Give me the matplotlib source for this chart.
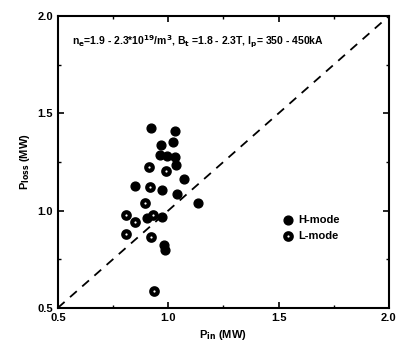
import matplotlib.pyplot as plt
from matplotlib.ticker import MultipleLocator

plt.rcParams['font.family'] = ['Liberation Sans', 'DejaVu Sans']
plt.rcParams['font.weight'] = 'bold'

# H-mode points
h_pin = [0.92, 1.03, 0.967, 1.022, 0.962, 0.995, 1.03, 1.035, 1.071, 0.85,
         0.973, 1.041, 1.136, 0.97, 0.905, 0.98, 0.985]
h_ploss = [1.423, 1.411, 1.337, 1.351, 1.286, 1.281, 1.274, 1.234, 1.163, 1.127,
           1.106, 1.086, 1.038, 0.969, 0.961, 0.824, 0.798]

# L-mode points
l_pin = [0.914, 0.989, 0.917, 0.894, 0.807, 0.932, 0.85, 0.807, 0.92, 0.936]
l_ploss = [1.226, 1.204, 1.12, 1.038, 0.978, 0.978, 0.943, 0.88, 0.863, 0.589]

diag = [0.5, 2.0]

fig = plt.figure(figsize=(3.96, 3.58), dpi=100)
ax = fig.add_axes([0.146, 0.14, 0.836, 0.815])

ax.plot(diag, diag, 'k--', lw=1.3, dashes=(5, 4))
ax.scatter(h_pin, h_ploss, s=40, c='black', edgecolors='black', label='H-mode', zorder=3)
ax.scatter(l_pin, l_ploss, s=22, c='white', edgecolors='black', linewidths=3,
           label='L-mode', zorder=3)

ax.set_xlim(0.5, 2.0)
ax.set_ylim(0.5, 2.0)
ax.xaxis.set_major_locator(MultipleLocator(0.5))
ax.yaxis.set_major_locator(MultipleLocator(0.5))
ax.xaxis.set_minor_locator(MultipleLocator(0.25))
ax.yaxis.set_minor_locator(MultipleLocator(0.25))
ax.tick_params(which='both', direction='in', top=True, right=True, labelsize=8)
ax.tick_params(which='major', length=4, width=1.2)
ax.tick_params(which='minor', length=2.5, width=1)
for s in ax.spines.values():
    s.set_linewidth(1.5)

ax.set_xlabel(r'P$_{\rm in}$ (MW)', fontsize=8, fontweight='bold')
ax.set_ylabel(r'P$_{\rm loss}$ (MW)', fontsize=8, fontweight='bold')

ax.text(0.042, 0.912,
        r'n$_{\rm e}$=1.9 - 2.3*10$^{19}$/m$^{3}$, B$_{\rm t}$ =1.8 - 2.3T, I$_{\rm p}$= 350 - 450kA',
        transform=ax.transAxes, fontsize=7.5, fontweight='bold', va='center')

ax.legend(loc='center left', bbox_to_anchor=(0.645, 0.274), frameon=False,
          fontsize=8, handletextpad=0.3, labelspacing=0.5, handlelength=1.2,
          scatterpoints=1)

fig.savefig('out.png', dpi=100)
